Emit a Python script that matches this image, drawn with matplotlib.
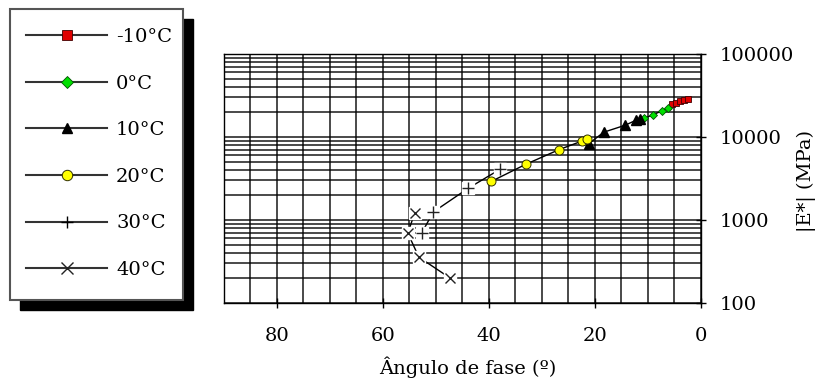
import matplotlib
matplotlib.use("Agg")
from matplotlib import pyplot as plt
from matplotlib.patches import Rectangle
from matplotlib.ticker import MultipleLocator, LogLocator, NullFormatter, FixedLocator
import numpy as np

# dados: angulo de fase (graus) e |E*| (MPa) por temperatura
labels = ["-10°C", "0°C", "10°C", "20°C", "30°C", "40°C"]

ang_m10 = [5.4, 4.7, 3.9, 3.2, 2.4]
E_m10 = [24800, 25900, 27000, 27800, 28600]

ang_0 = [10.7, 9.0, 7.4, 6.2]
E_0 = [16700, 18500, 20500, 22500]

ang_10 = [21.1, 18.3, 14.3, 12.2, 11.5]
E_10 = [8300, 11400, 13800, 15900, 16600]

ang_20 = [39.5, 33.0, 26.7, 22.5, 21.5]
E_20 = [2910, 4680, 7040, 8870, 9380]

ang_30 = [52.7, 50.5, 43.9, 37.9]
E_30 = [686, 1240, 2400, 4060]

ang_40 = [54.0, 55.3, 53.2, 47.4]
E_40 = [1205, 690, 354, 200]

plt.rcParams['font.family'] = ['DejaVu Serif']
plt.rcParams['font.size'] = 14

fig = plt.figure(figsize=(8.18, 3.83), dpi=100)
ax = fig.add_axes([224 / 818, 1 - 302.7 / 383, 476.7 / 818, 248.7 / 383])

lw = 1.0
h1, = ax.plot(ang_m10, E_m10, '-', color='k', lw=lw, marker='s', ms=4.5,
              mfc='#e00000', mec='#400000', mew=0.6, zorder=5, label=labels[0])
h2, = ax.plot(ang_0, E_0, '-', color='k', lw=lw, marker='D', ms=4.5,
              mfc='#00e000', mec='#005000', mew=0.6, zorder=5, label=labels[1])
h3, = ax.plot(ang_10, E_10, '-', color='k', lw=lw, marker='^', ms=6.5,
              mfc='k', mec='k', zorder=5, label=labels[2])
h4, = ax.plot(ang_20, E_20, '-', color='k', lw=lw, marker='o', ms=6.5,
              mfc='#ffff00', mec='#303000', mew=0.7, zorder=5, label=labels[3])
h5, = ax.plot(ang_30, E_30, '-', color='k', lw=lw, marker='+', ms=8,
              mec='k', mew=1.0, zorder=3, label=labels[4])
h6, = ax.plot(ang_40, E_40, '-', color='k', lw=lw, marker='x', ms=7,
              mec='#222222', mew=1.0, zorder=3, label=labels[5])

# fundo branco dos marcadores + e x (cobre grade e linha)
for a, e, m, s in [(ang_30, E_30, '+', 8), (ang_40, E_40, 'x', 7)]:
    ax.plot(a, e, ls='none', marker='s', ms=s + 1, mfc='white', mec='white', zorder=4)
    ax.plot(a, e, ls='none', marker=m, ms=s, mec='#222222', mew=1.0, zorder=5)

ax.set_xlim(90, 0)
ax.set_yscale('log')
ax.set_ylim(100, 100000)

ax.xaxis.set_major_locator(FixedLocator([80, 60, 40, 20, 0]))
ax.xaxis.set_minor_locator(MultipleLocator(5))
ax.yaxis.set_major_locator(LogLocator(base=10))
ax.yaxis.set_minor_locator(LogLocator(base=10, subs=np.arange(2, 10)))
ax.yaxis.set_minor_formatter(NullFormatter())
ax.yaxis.set_major_formatter(plt.FuncFormatter(lambda v, p: '%d' % v))

ax.yaxis.tick_right()
ax.yaxis.set_label_position('right')
ax.tick_params(axis='x', which='major', direction='inout', length=7, width=1, pad=14)
ax.tick_params(axis='x', which='minor', length=0)
ax.tick_params(axis='y', which='major', direction='inout', length=7, width=1, pad=10)
ax.tick_params(axis='y', which='minor', length=0)

ax.grid(True, which='both', color='black', lw=1.1, alpha=0.9, zorder=0)
ax.set_axisbelow(True)
for sp in ax.spines.values():
    sp.set_color('black')
    sp.set_linewidth(1.0)

ax.set_xlabel('Ângulo de fase (º)')
ax.xaxis.set_label_coords((468 - 224) / 476.7, (302.7 - 367) / 248.7)
ax.xaxis.label.set_verticalalignment('center')
ax.set_ylabel('|E*| (MPa)')
ax.yaxis.set_label_coords((806 - 224) / 476.7, (302.7 - 181.5) / 248.7)
ax.yaxis.label.set_verticalalignment('center')

# caixa da legenda com sombra preta
fig.patches.append(Rectangle((20 / 818, 73 / 383), 173 / 818, 291 / 383,
                             transform=fig.transFigure, facecolor='black',
                             edgecolor='black', zorder=0))
fig.patches.append(Rectangle((10 / 818, 83 / 383), 173 / 818, 291 / 383,
                             transform=fig.transFigure, facecolor='white',
                             edgecolor='#555555', lw=1.5, zorder=1))

leg = fig.legend(handles=[h1, h2, h3, h4, h5, h6], loc='upper left',
                 bbox_to_anchor=(26 / 818, 1 - 28 / 383), frameon=False,
                 borderpad=0, borderaxespad=0, handlelength=4.17,
                 handletextpad=0.46, labelspacing=1.47, fontsize=14)
leg.set_zorder(3)
sizes = [7, 6, 7, 7.5, 9, 8]
for hd, s in zip(leg.legend_handles, sizes):
    hd.set_markersize(s)
    hd.set_color('#333333')
    hd.set_linewidth(1.5)

fig.savefig('out.png', dpi=100, facecolor='white')
